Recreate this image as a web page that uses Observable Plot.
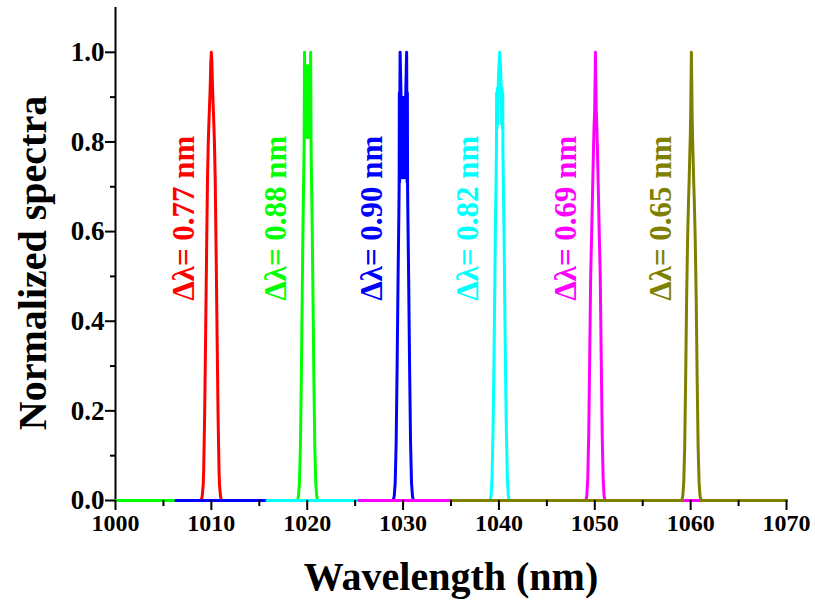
<!DOCTYPE html>
<html>
<head>
<meta charset="utf-8">
<script src="https://cdn.jsdelivr.net/npm/d3@7"></script>
<script src="https://cdn.jsdelivr.net/npm/@observablehq/plot@0.6"></script>
<style>
  html, body { margin: 0; padding: 0; background: #fff; }
  #chart svg { display: block; }
</style>
</head>
<body>
<div id="chart"></div>
<script>
// Series: [wavelength (nm), normalized intensity]
const redSpectrum = [[1000,0],[1008.95,0],[1009.05,0.01],[1009.15,0.035],[1009.2,0.067],[1009.3,0.19],[1009.4,0.365],[1009.5,0.55],[1009.6,0.72],[1009.68,0.80],[1009.74,0.84],[1009.86,0.91],[1009.95,0.98],[1010,1.0],[1010.05,0.98],[1010.14,0.91],[1010.26,0.84],[1010.32,0.80],[1010.4,0.72],[1010.5,0.55],[1010.6,0.365],[1010.7,0.19],[1010.8,0.067],[1010.85,0.035],[1010.95,0.01],[1011.05,0],[1034,0]];
const greenSpectrum = [[1000,0],[1018.99,0],[1019.09,0.01],[1019.19,0.04],[1019.29,0.12],[1019.39,0.28],[1019.49,0.48],[1019.57,0.63],[1019.64,0.73],[1019.68,0.80],[1019.72,1.0],[1019.784,0.82],[1019.848,0.97],[1019.912,0.81],[1019.976,0.97],[1020.04,0.81],[1020.104,0.97],[1020.168,0.81],[1020.232,0.97],[1020.296,0.82],[1020.36,1.0],[1020.40,0.80],[1020.44,0.73],[1020.51,0.63],[1020.59,0.48],[1020.69,0.28],[1020.79,0.12],[1020.89,0.04],[1020.99,0.01],[1021.09,0],[1044,0]];
const blueSpectrum = [[1006.3,0],[1028.98,0],[1029.08,0.01],[1029.18,0.04],[1029.28,0.13],[1029.38,0.3],[1029.48,0.5],[1029.56,0.64],[1029.59,0.70],[1029.61,0.91],[1029.64,0.71],[1029.67,0.92],[1029.69,1.0],[1029.81,0.88],[1029.85,0.72],[1029.91,0.90],[1029.97,0.72],[1030.03,0.87],[1030.09,0.72],[1030.15,0.90],[1030.21,0.72],[1030.25,0.88],[1030.37,1.0],[1030.39,0.92],[1030.42,0.71],[1030.45,0.91],[1030.47,0.70],[1030.50,0.64],[1030.58,0.5],[1030.68,0.3],[1030.78,0.13],[1030.88,0.04],[1030.98,0.01],[1031.08,0],[1054,0]];
const cyanSpectrum = [[1015.8,0],[1039.08,0],[1039.18,0.01],[1039.28,0.05],[1039.38,0.15],[1039.48,0.3],[1039.58,0.5],[1039.64,0.62],[1039.70,0.71],[1039.74,0.78],[1039.76,0.91],[1039.80,0.83],[1039.84,0.92],[1039.88,0.84],[1039.92,0.92],[1039.98,0.96],[1040.08,1.0],[1040.18,0.96],[1040.24,0.92],[1040.28,0.84],[1040.32,0.92],[1040.36,0.83],[1040.40,0.91],[1040.42,0.78],[1040.46,0.71],[1040.52,0.62],[1040.58,0.5],[1040.68,0.3],[1040.78,0.15],[1040.88,0.05],[1040.98,0.01],[1041.08,0],[1064,0]];
const magentaSpectrum = [[1025.4,0],[1049.07,0],[1049.17,0.01],[1049.27,0.05],[1049.37,0.15],[1049.47,0.32],[1049.57,0.5],[1049.71,0.63],[1049.79,0.71],[1049.87,0.79],[1049.92,0.83],[1049.99,0.87],[1050.04,0.95],[1050.07,1.0],[1050.10,0.95],[1050.15,0.87],[1050.22,0.83],[1050.27,0.79],[1050.35,0.71],[1050.43,0.63],[1050.57,0.5],[1050.67,0.32],[1050.77,0.15],[1050.87,0.05],[1050.97,0.01],[1051.07,0],[1070,0]];
const oliveSpectrum = [[1035,0],[1059.08,0],[1059.18,0.01],[1059.28,0.04],[1059.38,0.12],[1059.48,0.27],[1059.58,0.45],[1059.68,0.58],[1059.78,0.67],[1059.84,0.71],[1059.92,0.78],[1059.96,0.81],[1060.01,0.87],[1060.05,0.95],[1060.08,1.0],[1060.11,0.95],[1060.15,0.87],[1060.20,0.81],[1060.24,0.78],[1060.32,0.71],[1060.38,0.67],[1060.48,0.58],[1060.58,0.45],[1060.68,0.27],[1060.78,0.12],[1060.88,0.04],[1060.98,0.01],[1061.08,0],[1070,0]];

const seriesColors = ["#ff0000", "#00ff00", "#0000ff", "#00ffff", "#ff00ff", "#808000"];
const seriesData = [redSpectrum, greenSpectrum, blueSpectrum, cyanSpectrum, magentaSpectrum, oliveSpectrum];

// Annotations
const labelTexts = ["Δλ= 0.77 nm", "Δλ= 0.88 nm", "Δλ= 0.90 nm", "Δλ= 0.82 nm", "Δλ= 0.69 nm", "Δλ= 0.65 nm"];
const labelX = [1007.2, 1016.7, 1026.8, 1036.8, 1047.0, 1056.9];
const labelY = [0.63, 0.63, 0.63, 0.63, 0.63, 0.63];

// Ticks
const xMajorTicks = [1000, 1010, 1020, 1030, 1040, 1050, 1060, 1070];
const xMinorTicks = [1005, 1015, 1025, 1035, 1045, 1055, 1065];
const yMajorTicks = [0.0, 0.2, 0.4, 0.6, 0.8, 1.0];
const yMinorTicks = [0.1, 0.3, 0.5, 0.7, 0.9];

const xTitle = "Wavelength (nm)";
const yTitle = "Normalized spectra";

const font = "'Liberation Serif', 'Times New Roman', Times, serif";
const labels = labelTexts.map((t, i) => ({t, x: labelX[i], y: labelY[i], c: seriesColors[i]}));

const chart = Plot.plot({
  width: 815,
  height: 600,
  marginLeft: 115,
  marginRight: 29,
  marginTop: 7,
  marginBottom: 100,
  x: {domain: [1000, 1070]},
  y: {domain: [0, 1.1]},
  style: {fontFamily: font, fontWeight: "bold", background: "#fff", color: "#000"},
  marks: [
    Plot.ruleY([0], {stroke: "#000", strokeWidth: 2}),
    Plot.ruleX([1000], {stroke: "#000", strokeWidth: 2}),
    ...seriesData.map((pts, i) => Plot.line(pts, {
      x: d => d[0], y: d => d[1], stroke: seriesColors[i], strokeWidth: 3,
      strokeLinejoin: "round", curve: "linear"
    })),
    // tick marks (no text)
    Plot.axisX(xMajorTicks, {tickSize: 10, label: null, stroke: "#000", strokeWidth: 2, fill: "none"}),
    Plot.axisX(xMinorTicks, {tickSize: 6, label: null, stroke: "#000", strokeWidth: 2, fill: "none"}),
    Plot.axisY(yMajorTicks, {tickSize: 10, label: null, stroke: "#000", strokeWidth: 2, fill: "none"}),
    Plot.axisY(yMinorTicks, {tickSize: 5, label: null, stroke: "#000", strokeWidth: 2, fill: "none"}),
    // tick labels
    Plot.text(xMajorTicks, {x: d => d, frameAnchor: "bottom", dy: 23, text: d => String(d),
      fontSize: 24, fontWeight: "bold", textAnchor: "middle", lineAnchor: "middle", fill: "#000"}),
    Plot.text(yMajorTicks, {y: d => d, frameAnchor: "left", dx: -11, text: d => d3.format(".1f")(d),
      fontSize: 27, fontWeight: "bold", textAnchor: "end", lineAnchor: "middle", fill: "#000"}),
    Plot.text(labels, {x: "x", y: "y", text: "t", fill: "c", rotate: -90, fontSize: 31,
      fontWeight: "bold", textAnchor: "middle", lineAnchor: "middle"}),
    Plot.text([xTitle], {frameAnchor: "bottom", dy: 77, fontSize: 40, fontWeight: "bold",
      textAnchor: "middle", lineAnchor: "middle", fill: "#000"}),
    Plot.text([yTitle], {frameAnchor: "left", dx: -82, dy: 9, rotate: -90, fontSize: 40,
      fontWeight: "bold", textAnchor: "middle", lineAnchor: "middle", fill: "#000"})
  ]
});
document.getElementById("chart").appendChild(chart);
</script>
</body>
</html>
